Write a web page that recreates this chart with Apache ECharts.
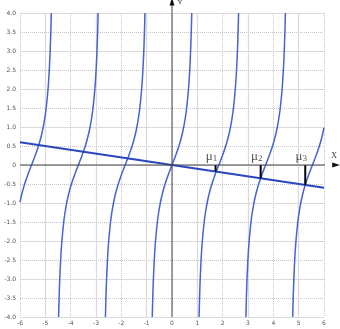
<!DOCTYPE html>
<html><head><meta charset="utf-8">
<script src="https://cdn.jsdelivr.net/npm/echarts@6/dist/echarts.min.js"></script>
<style>html,body{margin:0;padding:0;background:#fff}#c{width:340px;height:329px}</style>
</head><body><div id="c"></div>
<script>
// Tick labels
const xTickLabels = ['-6','-5','-4','-3','-2','-1','0','1','2','3','4','5','6'];
const yTickLabels = ['-4.0','-3.5','-3.0','-2.5','-2.0','-1.5','-1.0','-0.5','0','0.5','1.0','1.5','2.0','2.5','3.0','3.5','4.0'];

// Curve branches
const branch1 = [[-6,-0.98],[-5.923,-0.75],[-5.817,-0.5],[-5.688,-0.25],[-5.544,0],[-5.400,0.25],[-5.271,0.5],[-5.165,0.75],[-5.082,1],[-5.017,1.25],[-4.966,1.5],[-4.893,2],[-4.844,2.5],[-4.809,3],[-4.784,3.5],[-4.764,4]];
const branch2 = [[-4.476,-4],[-4.456,-3.5],[-4.431,-3],[-4.396,-2.5],[-4.347,-2],[-4.274,-1.5],[-4.223,-1.25],[-4.158,-1],[-4.075,-0.75],[-3.969,-0.5],[-3.840,-0.25],[-3.696,0],[-3.552,0.25],[-3.423,0.5],[-3.317,0.75],[-3.234,1],[-3.169,1.25],[-3.118,1.5],[-3.045,2],[-2.996,2.5],[-2.961,3],[-2.936,3.5],[-2.916,4]];
const branch3 = [[-2.628,-4],[-2.608,-3.5],[-2.583,-3],[-2.548,-2.5],[-2.499,-2],[-2.426,-1.5],[-2.375,-1.25],[-2.310,-1],[-2.227,-0.75],[-2.121,-0.5],[-1.992,-0.25],[-1.848,0],[-1.704,0.25],[-1.575,0.5],[-1.469,0.75],[-1.386,1],[-1.321,1.25],[-1.270,1.5],[-1.197,2],[-1.148,2.5],[-1.113,3],[-1.088,3.5],[-1.068,4]];
const branch4 = [[-0.780,-4],[-0.760,-3.5],[-0.735,-3],[-0.700,-2.5],[-0.651,-2],[-0.578,-1.5],[-0.527,-1.25],[-0.462,-1],[-0.379,-0.75],[-0.273,-0.5],[-0.144,-0.25],[0,0],[0.144,0.25],[0.273,0.5],[0.379,0.75],[0.462,1],[0.527,1.25],[0.578,1.5],[0.651,2],[0.700,2.5],[0.735,3],[0.760,3.5],[0.780,4]];
const branch5 = [[1.068,-4],[1.088,-3.5],[1.113,-3],[1.148,-2.5],[1.197,-2],[1.270,-1.5],[1.321,-1.25],[1.386,-1],[1.469,-0.75],[1.575,-0.5],[1.704,-0.25],[1.848,0],[1.992,0.25],[2.121,0.5],[2.227,0.75],[2.310,1],[2.375,1.25],[2.426,1.5],[2.499,2],[2.548,2.5],[2.583,3],[2.608,3.5],[2.628,4]];
const branch6 = [[2.916,-4],[2.936,-3.5],[2.961,-3],[2.996,-2.5],[3.045,-2],[3.118,-1.5],[3.169,-1.25],[3.234,-1],[3.317,-0.75],[3.423,-0.5],[3.552,-0.25],[3.696,0],[3.840,0.25],[3.969,0.5],[4.075,0.75],[4.158,1],[4.223,1.25],[4.274,1.5],[4.347,2],[4.396,2.5],[4.431,3],[4.456,3.5],[4.476,4]];
const branch7 = [[4.764,-4],[4.784,-3.5],[4.809,-3],[4.844,-2.5],[4.893,-2],[4.966,-1.5],[5.017,-1.25],[5.082,-1],[5.165,-0.75],[5.271,-0.5],[5.400,-0.25],[5.544,0],[5.688,0.25],[5.817,0.5],[5.923,0.75],[6,0.98]];
const branches = [branch1, branch2, branch3, branch4, branch5, branch6, branch7];

// Straight line
const straightLine = [[-6,0.6],[6,-0.6]];

// Roots
const muX = [1.72, 3.50, 5.26];
const muY = [-0.172, -0.350, -0.526];
const muNames = ['1','2','3'];

// Central axes (extend past the grid to the arrows)
const xAxisLineData = [[-6,0],[6.48,0]];
const yAxisLineData = [[0,-4],[0,4.3]];

const chart = echarts.init(document.getElementById('c'), null, {renderer:'canvas'});
const labelFont = {fontSize:6, color:'#555', fontFamily:'DejaVu Sans'};
const series = [];
branches.forEach(b => series.push({
  type:'line', data:b, xAxisIndex:0, yAxisIndex:0, showSymbol:false, smooth:0.2,
  lineStyle:{color:'#4463d4', width:1.5}, silent:true, z:3
}));
series.push({type:'line', data:straightLine, showSymbol:false,
  lineStyle:{color:'#2a47c2', width:2}, z:4, silent:true});
muX.forEach((m,i) => series.push({type:'line', showSymbol:false,
  data:[[m,0],[m,muY[i]]], lineStyle:{color:'#000', width:2}, z:5, silent:true}));
series.push({type:'scatter', symbolSize:0, z:6, silent:true,
  data: muX.map((m,i)=>({value:[m,0], name:muNames[i]})),
  label:{show:true, position:'top', distance:2, offset:[-4,0],
    formatter: p => '{a|μ}{b|' + p.name + '}',
    rich:{a:{fontFamily:'Liberation Serif', fontSize:13, color:'#222'},
          b:{fontFamily:'Liberation Serif', fontSize:9, color:'#222', verticalAlign:'bottom', padding:[3,0,0,0]}}}
});
series.push({type:'line', clip:false, z:7, silent:true, showSymbol:true,
  lineStyle:{color:'#444', width:1},
  data:[{value:xAxisLineData[0], symbol:'none'},
        {value:xAxisLineData[1], symbol:'triangle', symbolSize:[5,8], symbolRotate:-90,
         itemStyle:{color:'#111'},
         label:{show:true, formatter:'X', position:'top', distance:3, offset:[-2,0], fontFamily:'Liberation Serif', fontSize:8, color:'#333'}}]});
series.push({type:'line', clip:false, z:7, silent:true, showSymbol:true,
  lineStyle:{color:'#444', width:1},
  data:[{value:yAxisLineData[0], symbol:'none'},
        {value:yAxisLineData[1], symbol:'triangle', symbolSize:[5,8],
         itemStyle:{color:'#111'},
         label:{show:true, formatter:'Y', position:'right', distance:3, offset:[0,1], fontFamily:'Liberation Serif', fontSize:7, color:'#333'}}]});

chart.setOption({
  animation:false,
  backgroundColor:'#fff',
  grid:{left:20, right:16, top:13, bottom:12},
  xAxis:[
    {type:'value', min:-6, max:6, interval:1, position:'bottom',
     axisLine:{show:false}, axisTick:{show:false}, splitLine:{show:false},
     axisLabel:Object.assign({margin:3, formatter:v=>xTickLabels[Math.round(v+6)]}, labelFont)},
    {type:'value', min:-6, max:6, interval:2, position:'bottom',
     axisLine:{show:false}, axisTick:{show:false}, axisLabel:{show:false},
     splitLine:{show:true, lineStyle:{color:'#c4c4c4', type:'dotted', width:1}},
     minorTick:{show:false, splitNumber:2},
     minorSplitLine:{show:true, lineStyle:{color:'#dadada', type:'solid', width:1.2}}}
  ],
  yAxis:[
    {type:'value', min:-4, max:4, interval:0.5,
     axisLine:{show:false}, axisTick:{show:false}, splitLine:{show:false},
     axisLabel:Object.assign({margin:4, formatter:v=>yTickLabels[Math.round((v+4)*2)]}, labelFont)},
    {type:'value', min:-4, max:4, interval:1,
     axisLine:{show:false}, axisTick:{show:false}, axisLabel:{show:false},
     splitLine:{show:true, lineStyle:{color:'#dadada', type:'solid', width:1.2}},
     minorTick:{show:false, splitNumber:2},
     minorSplitLine:{show:true, lineStyle:{color:'#c4c4c4', type:'dotted', width:1}}}
  ],
  series: series
});
</script></body></html>
